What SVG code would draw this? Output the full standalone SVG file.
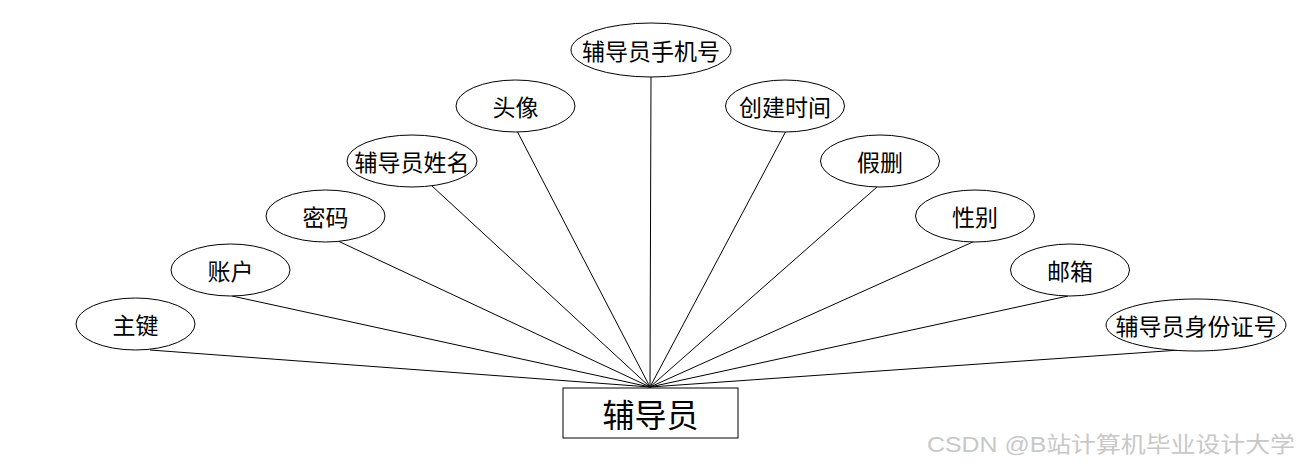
<svg xmlns="http://www.w3.org/2000/svg" width="1300" height="468" viewBox="0 0 1300 468">
<style>
.n ellipse{fill:#fff;stroke:#000;stroke-width:1}
.n text{font-family:"Noto Sans CJK SC","Liberation Sans",sans-serif;font-size:23px;fill:#000;text-anchor:middle;dominant-baseline:central}
#edges line{stroke:#000;stroke-width:1}
</style>
<rect width="1300" height="468" fill="#fff"/>
<g id="edges">
<line x1="150" y1="350" x2="650" y2="387"/>
<line x1="232" y1="296" x2="650" y2="387"/>
<line x1="338" y1="241" x2="650" y2="387"/>
<line x1="432" y1="186" x2="650" y2="387"/>
<line x1="517" y1="131" x2="650" y2="387"/>
<line x1="651" y1="77" x2="650" y2="387"/>
<line x1="786" y1="131" x2="650" y2="387"/>
<line x1="877" y1="187" x2="650" y2="387"/>
<line x1="975" y1="241" x2="650" y2="387"/>
<line x1="1068" y1="296" x2="650" y2="387"/>
<line x1="1180" y1="350" x2="650" y2="387"/>
</g>
<g id="n1" class="n"><ellipse cx="135.5" cy="324" rx="59.5" ry="26"/><text x="135.5" y="324">主键</text></g>
<g id="n2" class="n"><ellipse cx="230.5" cy="270" rx="59.5" ry="26"/><text x="230.5" y="270">账户</text></g>
<g id="n3" class="n"><ellipse cx="325.5" cy="216" rx="59.5" ry="26"/><text x="325.5" y="216">密码</text></g>
<g id="n4" class="n"><ellipse cx="412" cy="161" rx="65" ry="26"/><text x="412" y="161">辅导员姓名</text></g>
<g id="n5" class="n"><ellipse cx="515.5" cy="106" rx="59.5" ry="26"/><text x="515.5" y="106">头像</text></g>
<g id="n6" class="n"><ellipse cx="651" cy="50" rx="80" ry="27"/><text x="651" y="50">辅导员手机号</text></g>
<g id="n7" class="n"><ellipse cx="785" cy="106" rx="59.5" ry="26"/><text x="785" y="106">创建时间</text></g>
<g id="n8" class="n"><ellipse cx="880" cy="161" rx="59.5" ry="26"/><text x="880" y="161">假删</text></g>
<g id="n9" class="n"><ellipse cx="975" cy="216" rx="59.5" ry="26"/><text x="975" y="216">性别</text></g>
<g id="n10" class="n"><ellipse cx="1070" cy="270" rx="59.5" ry="26"/><text x="1070" y="270">邮箱</text></g>
<g id="n11" class="n"><ellipse cx="1196" cy="325" rx="90" ry="26"/><text x="1196" y="325">辅导员身份证号</text></g>
<g id="entity"><rect x="563" y="388" width="175" height="50" fill="#fff" stroke="#000" stroke-width="1"/><text x="650.5" y="413" font-family="'Noto Sans CJK SC','Liberation Sans',sans-serif" font-size="32" text-anchor="middle" dominant-baseline="central">辅导员</text></g>
<text x="927" y="452" font-family="'Liberation Sans','Noto Sans CJK SC',sans-serif" font-size="22" fill="#c8c8c8" textLength="368" lengthAdjust="spacingAndGlyphs">CSDN @B站计算机毕业设计大学</text>
</svg>
